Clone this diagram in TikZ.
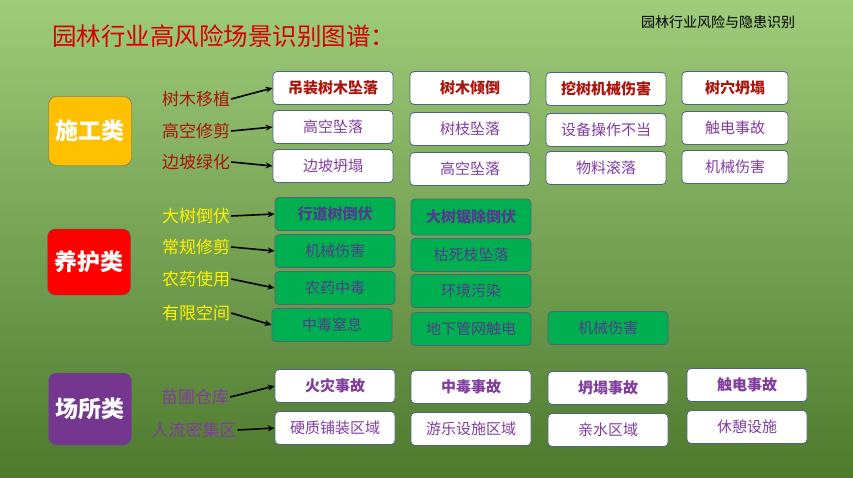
\documentclass[tikz,border=0pt]{standalone}
\usepackage{fontspec}
\setmainfont{Noto Sans CJK SC}
\usetikzlibrary{positioning,arrows.meta}

\definecolor{bgtop}{RGB}{158,204,122}
\definecolor{bgbot}{RGB}{78,122,46}
\definecolor{darkred}{RGB}{170,20,10}
\definecolor{txtpurple}{RGB}{130,60,160}
\definecolor{boxgreen}{RGB}{0,176,80}
\definecolor{greentxt}{RGB}{80,60,140}
\definecolor{edgeblue}{RGB}{80,100,130}
\definecolor{catorange}{RGB}{255,192,0}

\tikzset{
  hzbox/.style={draw=edgeblue, thick, rounded corners=4pt, fill=white,
    minimum width=120pt, minimum height=33pt, inner sep=0pt,
    font=\fontsize{15}{15}\selectfont, text=txtpurple},
  hzgreen/.style={hzbox, fill=boxgreen, text=greentxt},
  catbox/.style={draw=edgeblue, rounded corners=8pt, minimum width=83pt,
    minimum height=69pt, text=white, font=\fontsize{23}{23}\selectfont\bfseries},
  sidelab/.style={font=\fontsize{17}{17}\selectfont, inner sep=1pt},
  link/.style={-{Stealth[length=7pt,width=6pt]}, line width=1.6pt, black}
}

\begin{document}
\begin{tikzpicture}[x=1pt,y=-1pt]

% ===== background =====
\shade[top color=bgtop, bottom color=bgbot] (0,0) rectangle (853,477);
\useasboundingbox (0,0) rectangle (853,477);

% ===== titles =====
\node[anchor=west, text=red!85!black, font=\fontsize{24.5}{25}\selectfont, inner sep=0pt] (title) at (52,36) {园林行业高风险场景识别图谱：};
\node[font=\fontsize{14}{14}\selectfont, inner sep=0pt] (subtitle) at (718,22) {园林行业风险与隐患识别};

% ===== categories =====
\node[catbox, fill=catorange] (sg) at (90,131) {施工类};
\node[catbox, fill=red, minimum height=66pt] (yh) at (89,262) {养护类};
\node[catbox, fill=txtpurple!90!black, minimum height=72pt] (cs) at (90,409) {场所类};

% ===== construction =====
\node[hzbox, text=darkred, font=\fontsize{15}{15}\selectfont\bfseries] (a1) at (333,88) {吊装树木坠落};
\node[hzbox, text=darkred, font=\fontsize{15}{15}\selectfont\bfseries] (a2) at (470,88) {树木倾倒};
\node[hzbox, text=darkred, font=\fontsize{15}{15}\selectfont\bfseries] (a3) at (606,89) {挖树机械伤害};
\node[hzbox, text=darkred, font=\fontsize{15}{15}\selectfont\bfseries, minimum width=106pt] (a4) at (735,88) {树穴坍塌};
\node[hzbox] (b1) at (333,127) {高空坠落};
\node[hzbox] (b2) at (470,129) {树枝坠落};
\node[hzbox] (b3) at (606,130) {设备操作不当};
\node[hzbox, minimum width=106pt] (b4) at (735,128) {触电事故};
\node[hzbox] (c1) at (333,166) {边坡坍塌};
\node[hzbox] (c2) at (470,169) {高空坠落};
\node[hzbox] (c3) at (606,168) {物料滚落};
\node[hzbox, minimum width=106pt] (c4) at (735,167) {机械伤害};

\node[sidelab, text=darkred] (s1) at (196,99) {树木移植};
\node[sidelab, text=darkred] (s2) at (196,131) {高空修剪};
\node[sidelab, text=darkred] (s3) at (196,162) {边坡绿化};
\draw[link] (s1.east) -- (a1.west);
\draw[link] (s2.east) -- (b1.west);
\draw[link] (s3.east) -- (c1.west);

% ===== maintenance =====
\node[hzgreen, font=\fontsize{15}{15}\selectfont\bfseries] (d1) at (335,214) {行道树倒伏};
\node[hzgreen, font=\fontsize{15}{15}\selectfont\bfseries, minimum height=36pt] (d2) at (471,217) {大树锯除倒伏};
\node[hzgreen] (e1) at (335,251) {机械伤害};
\node[hzgreen] (e2) at (471,255) {枯死枝坠落};
\node[hzgreen] (f1) at (335,288) {农药中毒};
\node[hzgreen] (f2) at (471,291) {环境污染};
\node[hzgreen] (g1) at (332,325) {中毒窒息};
\node[hzgreen] (g2) at (471,329) {地下管网触电};
\node[hzgreen] (g3) at (608,328) {机械伤害};

\node[sidelab, text=yellow] (t1) at (196,216) {大树倒伏};
\node[sidelab, text=yellow] (t2) at (196,247) {常规修剪};
\node[sidelab, text=yellow] (t3) at (196,279) {农药使用};
\node[sidelab, text=yellow] (t4) at (196,313) {有限空间};
\draw[link] (t1.east) -- (d1.west);
\draw[link] (t2.east) -- (e1.west);
\draw[link] (t3.east) -- (f1.west);
\draw[link] (t4.east) -- (g1.west);

% ===== places =====
\node[hzbox, font=\fontsize{15}{15}\selectfont\bfseries] (h1) at (335,386) {火灾事故};
\node[hzbox, font=\fontsize{15}{15}\selectfont\bfseries] (h2) at (471,387) {中毒事故};
\node[hzbox, font=\fontsize{15}{15}\selectfont\bfseries] (h3) at (608,388) {坍塌事故};
\node[hzbox, font=\fontsize{15}{15}\selectfont\bfseries] (h4) at (747,385) {触电事故};
\node[hzbox] (k1) at (335,428) {硬质铺装区域};
\node[hzbox] (k2) at (471,429) {游乐设施区域};
\node[hzbox] (k3) at (608,430) {亲水区域};
\node[hzbox] (k4) at (747,427) {休憩设施};

\node[sidelab, text=txtpurple] (u1) at (195,397) {苗圃仓库};
\node[sidelab, text=txtpurple] (u2) at (194,430) {人流密集区};
\draw[link] (u1.east) -- (h1.west);
\draw[link] (u2.east) -- (k1.west);

\end{tikzpicture}
\end{document}
